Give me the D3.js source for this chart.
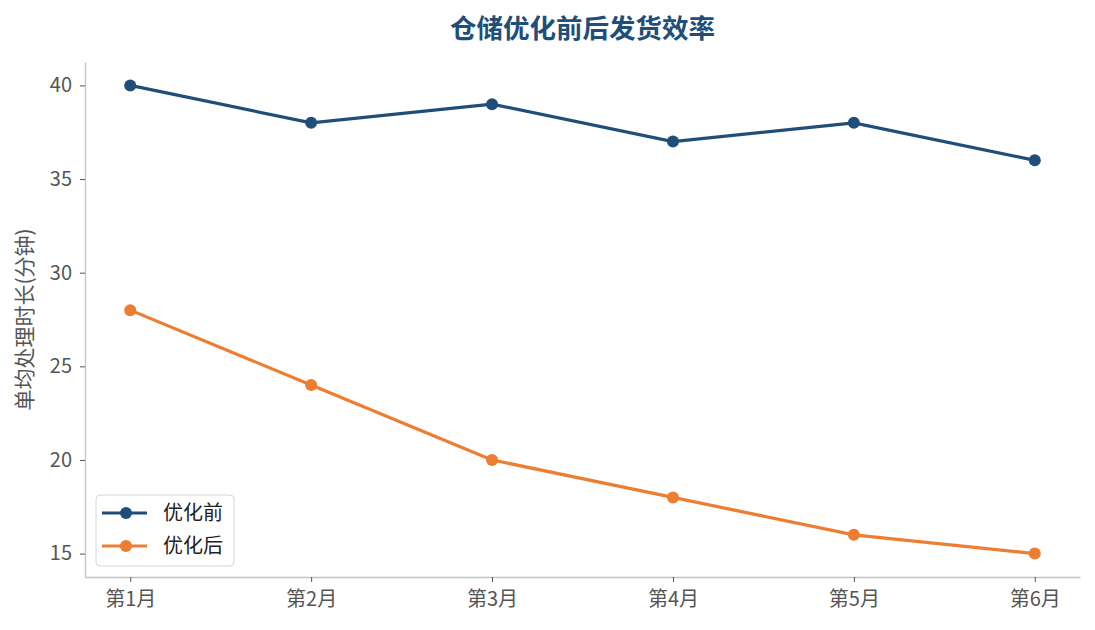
<!DOCTYPE html>
<html>
<head>
<meta charset="utf-8">
<script src="https://cdn.jsdelivr.net/npm/d3@7"></script>
<style>
  body { margin: 0; background: #fff; }
  text { font-family: "Noto Sans CJK SC", "Noto Sans", sans-serif; }
</style>
</head>
<body>
<div id="chart"></div>
<script>
// Chart data
const months = ["第1月", "第2月", "第3月", "第4月", "第5月", "第6月"];
const beforeValues = [40, 38, 39, 37, 38, 36];
const afterValues = [28, 24, 20, 18, 16, 15];
const seriesNames = ["优化前", "优化后"];
const yTicks = [15, 20, 25, 30, 35, 40];

const width = 1095;
const height = 630;
const margin = { top: 62, right: 15, bottom: 53, left: 85 };
const innerW = width - margin.left - margin.right;
const innerH = height - margin.top - margin.bottom;

const colors = ["#1f4e79", "#ed7d31"];

const svg = d3.select("#chart")
  .append("svg")
  .attr("width", width)
  .attr("height", height);

const g = svg.append("g")
  .attr("transform", `translate(${margin.left}, ${margin.top})`);

// x: point positions with 5% padding on both ends
const xScale = d3.scaleLinear()
  .domain([-0.25, months.length - 1 + 0.25])
  .range([0, innerW]);

const yScale = d3.scaleLinear()
  .domain([13.75, 41.25])
  .range([innerH, 0]);

// Axes
const xAxis = g.append("g")
  .attr("transform", `translate(0, ${innerH})`)
  .call(
    d3.axisBottom(xScale)
      .tickValues(d3.range(months.length))
      .tickFormat(i => months[i])
      .tickSize(5)
      .tickSizeOuter(0)
      .tickPadding(10)
  );

const yAxis = g.append("g")
  .call(
    d3.axisLeft(yScale)
      .tickValues(yTicks)
      .tickSize(5)
      .tickSizeOuter(0)
      .tickPadding(8)
  );

[xAxis, yAxis].forEach(ax => {
  ax.select(".domain").attr("stroke", "#c4c4c4").attr("stroke-width", 1.3);
  ax.selectAll(".tick line").attr("stroke", "#555").attr("stroke-width", 1);
  ax.selectAll(".tick text")
    .attr("fill", "#555")
    .style("font-size", "20px");
});

// Title
svg.append("text")
  .attr("x", margin.left + innerW / 2)
  .attr("y", 29)
  .attr("dy", "0.35em")
  .attr("text-anchor", "middle")
  .attr("fill", "#1f4e79")
  .style("font-size", "26.5px")
  .style("font-weight", "bold")
  .text("仓储优化前后发货效率");

// Y label
svg.append("text")
  .attr("transform", `translate(25, ${margin.top + innerH / 2}) rotate(-90)`)
  .attr("text-anchor", "middle")
  .attr("dy", "0.35em")
  .attr("fill", "#555")
  .style("font-size", "21px")
  .text("单均处理时长(分钟)");

// Lines
const series = [beforeValues, afterValues];

const line = d3.line()
  .x((d, i) => xScale(i))
  .y(d => yScale(d));

series.forEach((values, s) => {
  g.append("path")
    .datum(values)
    .attr("d", line)
    .style("fill", "none")
    .style("stroke", colors[s])
    .style("stroke-width", 3.2);

  g.selectAll(".dot-" + s)
    .data(values)
    .enter()
    .append("circle")
    .attr("class", "dot-" + s)
    .attr("cx", (d, i) => xScale(i))
    .attr("cy", d => yScale(d))
    .attr("r", 6)
    .style("fill", colors[s]);
});

// Legend
const legend = svg.append("g")
  .attr("transform", "translate(96, 495)");

legend.append("rect")
  .attr("width", 138)
  .attr("height", 71)
  .attr("rx", 4)
  .style("fill", "#fff")
  .style("fill-opacity", 0.8)
  .style("stroke", "#d5d5d5")
  .style("stroke-width", 1);

seriesNames.forEach((name, s) => {
  const y = 18 + s * 33;
  legend.append("line")
    .attr("x1", 6).attr("x2", 51)
    .attr("y1", y).attr("y2", y)
    .style("stroke", colors[s])
    .style("stroke-width", 3.2);
  legend.append("circle")
    .attr("cx", 30).attr("cy", y)
    .attr("r", 6)
    .style("fill", colors[s]);
  legend.append("text")
    .attr("x", 67)
    .attr("y", y)
    .attr("dy", "0.35em")
    .attr("fill", "#222")
    .style("font-size", "20px")
    .text(name);
});
</script>
</body>
</html>
